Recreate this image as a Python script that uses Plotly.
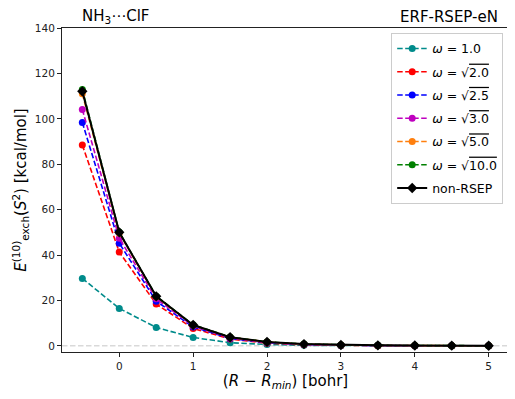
# Importing Modules
import plotly.graph_objects as go

# Data: displacement from the minimum (bohr) and exchange energies (kcal/mol)
r_shift = [-0.5, 0.0, 0.5, 1.0, 1.5, 2.0, 2.5, 3.0, 3.5, 4.0, 4.5, 5.0]

omega_1_0 = [29.7, 16.5, 8.1, 3.7, 1.4, 0.6, 0.25, 0.1, 0.05, 0.03, 0.02, 0.01]
omega_2_0 = [88.5, 41.3, 18.4, 7.7, 3.0, 1.2, 0.5, 0.2, 0.1, 0.06, 0.03, 0.02]
omega_2_5 = [98.4, 45.2, 19.7, 8.3, 3.3, 1.4, 0.6, 0.25, 0.12, 0.07, 0.04, 0.02]
omega_3_0 = [104.1, 47.4, 20.7, 8.7, 3.5, 1.5, 0.65, 0.3, 0.14, 0.08, 0.05, 0.03]
omega_5_0 = [111.0, 49.6, 21.6, 9.1, 3.8, 1.7, 0.75, 0.35, 0.2, 0.12, 0.08, 0.05]
omega_10_0 = [112.9, 50.1, 21.9, 9.3, 3.9, 1.75, 0.8, 0.35, 0.22, 0.14, 0.09, 0.06]
non_rsep = [112.1, 50.0, 21.8, 9.2, 3.8, 1.75, 0.78, 0.35, 0.22, 0.14, 0.09, 0.06]

series_names = [
    "<i>ω</i> = 1.0",
    "<i>ω</i> = √<span style='text-decoration:overline'>2.0</span>",
    "<i>ω</i> = √<span style='text-decoration:overline'>2.5</span>",
    "<i>ω</i> = √<span style='text-decoration:overline'>3.0</span>",
    "<i>ω</i> = √<span style='text-decoration:overline'>5.0</span>",
    "<i>ω</i> = √<span style='text-decoration:overline'>10.0</span>",
    "non-RSEP",
]
series_values = [omega_1_0, omega_2_0, omega_2_5, omega_3_0, omega_5_0, omega_10_0, non_rsep]
series_colors = ["#008b8b", "#ff0000", "#0000ff", "#bf00bf", "#ff7f0e", "#008000", "#000000"]

fig = go.Figure()

# RSEP curves are dashed with round markers, the reference is solid with diamonds
for i, (name, vals, col) in enumerate(zip(series_names, series_values, series_colors)):
    is_ref = name == "non-RSEP"
    fig.add_trace(go.Scatter(
        x=r_shift, y=vals, name=name, mode="lines+markers",
        legendgroup=str(i),
        line=dict(color=col, width=1.6 if not is_ref else 2, dash="solid" if is_ref else "5.5px,2.5px"),
        marker=dict(color=col, size=8 if is_ref else 7, symbol="diamond" if is_ref else "circle"),
    ))

# Zero reference line
fig.add_shape(type="line", xref="paper", yref="y", x0=0, x1=1, y0=0, y1=0,
              line=dict(color="#d9d9d9", width=1.5, dash="5.5px,2.5px"), layer="below")

# Panel labels
fig.add_annotation(text="NH<sub>3</sub>⋯ClF", xref="paper", yref="paper", x=0.04, y=1.0,
                   xanchor="left", yanchor="bottom", showarrow=False, font=dict(size=15, color="black"))
fig.add_annotation(text="ERF-RSEP-eN", xref="paper", yref="paper", x=0.98, y=1.0,
                   xanchor="right", yanchor="bottom", showarrow=False, font=dict(size=15, color="black"))

axis_style = dict(showline=True, linecolor="#222222", linewidth=1, mirror=True, ticks="outside",
                  ticklen=4, tickcolor="#222222", showgrid=False, zeroline=False, automargin=False,
                  tickfont=dict(size=10.5, color="#222222"))

# the page body adds an 8px offset, so the figure is a bit smaller than the window
fig.update_layout(
    width=507, height=391,
    margin=dict(l=54, r=6, t=20, b=47),
    paper_bgcolor="white", plot_bgcolor="white",
    font=dict(family="DejaVu Sans", color="black"),
    xaxis=dict(axis_style, range=[-0.775, 5.275], tickvals=[0, 1, 2, 3, 4, 5],
               title=dict(text="(<i>R</i> − <i>R<sub>min</sub></i>) [bohr]", font=dict(size=15), standoff=4)),
    yaxis=dict(axis_style, range=[-2.7, 140], tickvals=[0, 20, 40, 60, 80, 100, 120, 140],
               title=dict(text="<i>E</i><sup>(10)</sup><sub>exch</sub>(<i>S</i><sup>2</sup>) [kcal/mol]",
                          font=dict(size=15), standoff=4)),
    legend=dict(x=0.987, y=0.985, xanchor="right", yanchor="top", bgcolor="rgba(255,255,255,0.8)",
                bordercolor="#cccccc", borderwidth=1, font=dict(size=12.5), tracegroupgap=4),
    showlegend=True,
)

fig.write_html("out.html")
